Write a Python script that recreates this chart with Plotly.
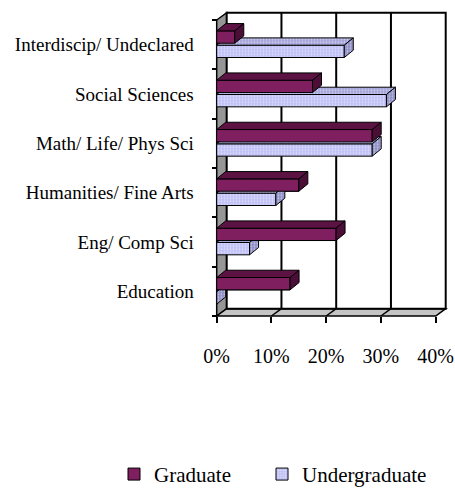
import plotly.graph_objects as go

# ---------------- data ----------------
categories = ["Interdiscip/ Undeclared", "Social Sciences", "Math/ Life/ Phys Sci",
              "Humanities/ Fine Arts", "Eng/ Comp Sci", "Education"]
graduate = [3.3, 17.5, 28.4, 15.0, 21.8, 13.4]
undergraduate = [23.3, 31.0, 28.4, 10.8, 6.0, 0.0]
x_ticks = [0, 10, 20, 30, 40]
x_tick_labels = ["0%", "10%", "20%", "30%", "40%"]
series_names = ["Graduate", "Undergraduate"]

# ---------------- style / geometry ----------------
W, H = 455, 491
FONT = "Liberation Serif"
X0PX, PXU = 216.7, 5.475        # pixel of x=0 and pixels per unit
Y0PX, PYU = 316.0, 49.33        # pixel of y=-0.5 and pixels per unit
XR = [-0.5, 42.5]
YR = [-0.6, 5.75]
WD, WDY = 10 / PXU, 7.3 / PYU   # wall depth
BD, BDY = 9 / PXU, 7.3 / PYU    # bar depth
G_OFF, G_W = 0.03, 0.25
U_OFF, U_W = -0.26, 0.25

G_FRONT, G_TOP, G_SIDE = "#7f1f5f", "#5c1344", "#4a0e37"
U_FRONT, U_TOP, U_SIDE = "#bfbff6", "#a3a3da", "#8c8cc6"

n = len(categories)
pos = [n - 1 - i for i in range(n)]

def xpx(v):
    return X0PX + (v) * PXU

def ypx(v):
    return Y0PX - (v + 0.5) * PYU

xdom = [xpx(XR[0]) / W, xpx(XR[1]) / W]
ydom = [1 - ypx(YR[0]) / H, 1 - ypx(YR[1]) / H]

fig = go.Figure()

# legend + front faces as bars
fig.add_trace(go.Bar(
    y=pos, x=graduate, orientation="h", name=series_names[0],
    offset=G_OFF, width=G_W, base=0, legend="legend",
    marker=dict(color=G_FRONT, line=dict(color="black", width=1)),
    hoverinfo="skip"))
fig.add_trace(go.Bar(
    y=pos, x=undergraduate, orientation="h", name=series_names[1],
    offset=U_OFF, width=U_W, base=0, legend="legend2",
    marker=dict(color=U_FRONT, line=dict(color="black", width=1),
                pattern=dict(shape=".", fgcolor="white", bgcolor=U_FRONT, size=3, solidity=0.3)),
    hoverinfo="skip"))


def faces(values, off, w):
    top_x, top_y, side_x, side_y, fr_x, fr_y = [], [], [], [], [], []
    for p, v in zip(pos, values):
        y0, y1 = p + off, p + off + w
        top_x += [0, v, v + BD, BD, 0, None]
        top_y += [y1, y1, y1 + BDY, y1 + BDY, y1, None]
        side_x += [v, v + BD, v + BD, v, v, None]
        side_y += [y0, y0 + BDY, y1 + BDY, y1, y0, None]
        fr_x += [0, v, v, 0, 0, None]
        fr_y += [y0, y0, y1, y1, y0, None]
    return (top_x, top_y), (side_x, side_y), (fr_x, fr_y)


def poly(xy, color, pattern=None):
    kw = {}
    if pattern:
        kw["fillpattern"] = pattern
    return go.Scatter(x=xy[0], y=xy[1], mode="lines", fill="toself", fillcolor=color,
                      line=dict(color="black", width=1), showlegend=False,
                      hoverinfo="skip", **kw)


u_top, u_side, _ = faces(undergraduate, U_OFF, U_W)
g_top, g_side, g_front = faces(graduate, G_OFF, G_W)
fig.add_trace(poly(u_top, U_TOP, dict(shape=".", fgcolor="white", bgcolor=U_TOP, size=3, solidity=0.3)))
fig.add_trace(poly(u_side, U_SIDE, dict(shape=".", fgcolor="white", bgcolor=U_SIDE, size=3, solidity=0.3)))
fig.add_trace(poly(g_front, G_FRONT))
fig.add_trace(poly(g_top, G_TOP))
fig.add_trace(poly(g_side, G_SIDE))

# walls
shapes = []
ybot, ytop = -0.5, n - 0.5
shapes.append(dict(type="path", layer="below",
                   path=f"M0,{ybot} L0,{ytop} L{WD},{ytop + WDY} L{WD},{ybot + WDY} Z",
                   fillcolor="#969696", line=dict(color="black", width=1.5)))
shapes.append(dict(type="path", layer="below",
                   path=f"M0,{ybot} L40,{ybot} L{40 + WD},{ybot + WDY} L{WD},{ybot + WDY} Z",
                   fillcolor="#c4c4c4", line=dict(color="black", width=1.5)))
shapes.append(dict(type="rect", layer="below", x0=WD, x1=40 + WD, y0=ybot + WDY, y1=ytop + WDY,
                   fillcolor="white", line=dict(color="black", width=2)))
for k in x_ticks[1:-1]:
    shapes.append(dict(type="line", layer="below", x0=k + WD, x1=k + WD, y0=ybot + WDY, y1=ytop + WDY,
                       line=dict(color="black", width=2)))
    shapes.append(dict(type="line", layer="below", x0=k, x1=k + WD, y0=ybot, y1=ybot + WDY,
                       line=dict(color="black", width=1.5)))

legend_common = dict(orientation="h", xanchor="left", y=-0.008, yanchor="bottom",
                     font=dict(size=21, family=FONT, color="black"),
                     bgcolor="rgba(0,0,0,0)", borderwidth=0)

fig.update_layout(
    width=W, height=H, margin=dict(l=0, r=0, t=0, b=0, autoexpand=False),
    paper_bgcolor="white", plot_bgcolor="rgba(0,0,0,0)",
    barmode="overlay", shapes=shapes,
    font=dict(family=FONT, color="black"),
    xaxis=dict(domain=xdom, range=XR, anchor="free", position=1 - Y0PX / H, automargin=False,
               tickvals=x_ticks, ticktext=x_tick_labels, ticks="outside", ticklen=6,
               tickwidth=2, tickcolor="black", showgrid=False, zeroline=False, showline=False,
               tickfont=dict(size=20, family=FONT, color="black"), ticklabelstandoff=16,
               fixedrange=True),
    yaxis=dict(domain=ydom, range=YR, anchor="free", position=X0PX / W, automargin=False,
               tickvals=pos, ticktext=categories, ticks="", showgrid=False, zeroline=False,
               showline=False, tickfont=dict(size=19, family=FONT, color="black"),
               ticklabelstandoff=23,
               minor=dict(tickvals=[i - 0.5 for i in range(n + 1)], ticks="outside", ticklen=5,
                          tickwidth=2, tickcolor="black", showgrid=False),
               fixedrange=True),
    legend=dict(x=114 / W, **legend_common),
    legend2=dict(x=262 / W, **legend_common),
)

fig.write_html("out.html", config={"displayModeBar": False},
               post_script="document.body.style.margin='0';document.body.style.padding='0';")
